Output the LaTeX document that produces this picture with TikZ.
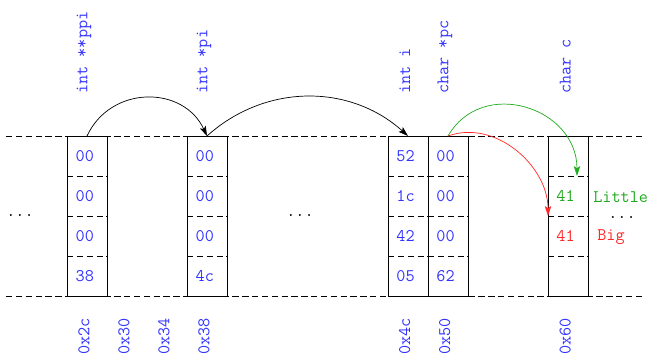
\documentclass[tikz,border=0pt]{standalone}
\usepackage{fontspec}
\usetikzlibrary{arrows.meta,positioning,calc}
\definecolor{memblue}{RGB}{51,51,255}
\definecolor{lilgreen}{RGB}{30,170,30}
\definecolor{bigred}{RGB}{255,40,40}
\tikzset{
  ttsize/.style={font=\ttfamily\fontsize{12.6}{14}\selectfont},
  memval/.style={ttsize,text=memblue,inner sep=0pt},
  varlabel/.style={ttsize,text=memblue,rotate=90,anchor=west,inner sep=0pt},
  addrlabel/.style={ttsize,text=memblue,rotate=90,anchor=east,inner sep=0pt},
  memdash/.style={dash pattern=on 4.5pt off 2.5pt},
  ptrarrow/.style={-{Stealth[length=7pt,width=4.5pt,inset=1.5pt]},line width=0.5pt},
}

\begin{document}
\begin{tikzpicture}[x=1cm,y=1cm]
  \useasboundingbox (0,0) rectangle (16.25,8.95);
  % メモリの上端・下端
  \draw[memdash] (0.15,1.55) -- (16.125,1.55);
  \draw[memdash] (0.15,5.55) -- (16.125,5.55);
  % 各変数の箱（1マス＝1バイト）
  \foreach \cx in {1.675,4.675,9.7,10.7,13.7} {
    \draw[line width=0.6pt] (\cx,1.55) rectangle ++(1,4);
    \foreach \ry in {2.55,3.55,4.55}
      \draw[memdash] (\cx,\ry) -- ++(1,0);
  }
  % 中身
  \foreach \v [count=\r] in {00,00,00,38}
    \node[memval] (ppi\r) at (2.12,5.55-\r+0.5) {\v};
  \foreach \v [count=\r] in {00,00,00,4c}
    \node[memval] (pi\r) at (5.12,5.55-\r+0.5) {\v};
  \foreach \v [count=\r] in {52,1c,42,05}
    \node[memval] (i\r) at (10.14,5.55-\r+0.5) {\v};
  \foreach \v [count=\r] in {00,00,00,62}
    \node[memval] (pc\r) at (11.14,5.55-\r+0.5) {\v};
  \node[memval,text=lilgreen] (c2) at (14.14,4.05) {41};
  \node[memval,text=bigred] (c3) at (14.14,3.05) {41};
  \node[ttsize,text=lilgreen,anchor=west,inner sep=0pt] (little) at (14.825,4.02) {Little};
  \node[ttsize,text=bigred,anchor=west,inner sep=0pt] (big) at (14.925,3.02) {Big};
  % 省略
  \node[ttsize,inner sep=0pt] (dotsl) at (0.5,3.55) {...};
  \node[ttsize,inner sep=0pt] (dotsm) at (7.5,3.55) {...};
  \node[ttsize,inner sep=0pt] (dotsr) at (15.55,3.52) {...};
  % 変数名
  \node[varlabel] (nppi) at (2.1,6.6) {int **ppi};
  \node[varlabel] (npi) at (5.1,6.6) {int *pi};
  \node[varlabel] (ni) at (10.12,6.6) {int i};
  \node[varlabel] (npc) at (11.12,6.6) {char *pc};
  \node[varlabel] (nc) at (14.13,6.6) {char c};
  % アドレス
  \foreach \ax/\at in {2.1/0x2c,3.1/0x30,4.1/0x34,5.1/0x38,10.12/0x4c,11.12/0x50,14.13/0x60}
    \node[addrlabel] at (\ax,1.0) {\at};
  % ポインタの矢印
  \coordinate (ppitop) at (2.175,5.55);
  \coordinate (pitop) at (5.175,5.55);
  \coordinate (itop) at (10.2,5.55);
  \coordinate (pctop) at (11.2,5.55);
  \coordinate (clittle) at (14.425,4.55);
  \coordinate (cbig) at (13.7,3.55);
  \draw[ptrarrow] (ppitop) to[out=65,in=115,looseness=1.2] (pitop);
  \draw[ptrarrow] (pitop) to[out=42,in=138] (itop);
  \draw[ptrarrow,lilgreen] (pctop) to[out=60,in=90,looseness=1.3] (clittle);
  \draw[ptrarrow,bigred] (pctop) to[out=20,in=90] (cbig);
\end{tikzpicture}
\end{document}
